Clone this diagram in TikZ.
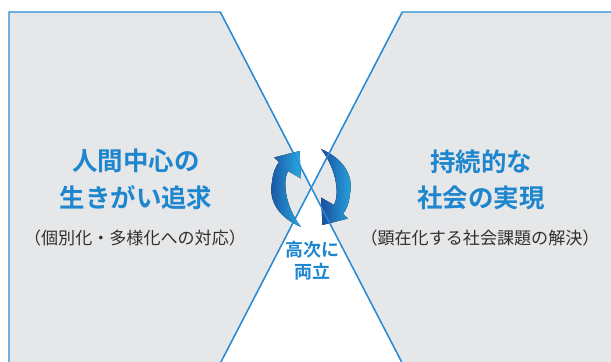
\documentclass[tikz,border=0pt]{standalone}
\usepackage{fontspec}
\newfontfamily\cjk{Noto Sans CJK JP}[BoldFont={Noto Sans CJK JP Bold}]
\definecolor{lineblue}{HTML}{2A8BD6}
\definecolor{panelgray}{HTML}{E6E7E9}
\definecolor{titleblue}{HTML}{1E86CE}
\definecolor{subgray}{HTML}{303030}
\definecolor{arrowdark}{HTML}{1B4F9F}
\definecolor{arrowlight}{HTML}{27A9E1}
\tikzset{
  title/.style={font=\cjk\bfseries\fontsize{19.1pt}{23pt}\selectfont, text=titleblue, inner sep=0pt, anchor=center},
  subtitle/.style={font=\cjk\fontsize{12.8pt}{15pt}\selectfont, text=subgray, inner sep=0pt, anchor=center},
  center/.style={font=\cjk\bfseries\fontsize{13.5pt}{16pt}\selectfont, text=titleblue, inner sep=0pt, anchor=center},
  border/.style={draw=lineblue, line width=0.95pt},
  cyclearrow/.style={left color=arrowdark, right color=arrowlight, draw=none}
}
\begin{document}
\begin{tikzpicture}[x=0.75pt, y=-0.75pt]
\useasboundingbox (0,0) rectangle (611,361);
\begin{scope}
\clip (0,0) rectangle (611,361);
% panels
\fill[panelgray] (9,12) -- (220.3,12) -- (311.5,188) -- (216.8,370) -- (9,370) -- cycle;
\fill[panelgray] (402.3,12) -- (620,12) -- (620,370) -- (405.8,370) -- (311.5,188) -- cycle;
% borders
\draw[border] (9,370) -- (9,12) -- (220.3,12) -- (405.8,370);
\draw[border] (620,12) -- (402.3,12) -- (216.8,370);
% cycle arrows
\fill[cyclearrow] (301,227) .. controls (280,218) and (268,202) .. (272,182)
  .. controls (273,172) and (276,166) .. (279,162) -- (274,157.5) -- (299.5,151)
  -- (301,178.5) -- (288,171) .. controls (283,180) and (284,205) .. (301,227) -- cycle;
\fill[cyclearrow] (321,149) .. controls (342,158) and (354,174) .. (350,194)
  .. controls (349,204) and (346,210) .. (343,214) -- (348,218.5) -- (322.5,225)
  -- (321,197.5) -- (334,205) .. controls (339,196) and (338,171) .. (321,149) -- cycle;
% crossing lines over arrows
\draw[lineblue, line width=0.95pt] (220.3,12) -- (405.8,370);
\draw[lineblue, line width=0.95pt] (402.3,12) -- (216.8,370);
\end{scope}
% texts
\node[title] (l1) at (136,161) {人間中心の};
\node[title] (l2) at (136,198) {生きがい追求};
\node[subtitle] (l3) at (135,238) {（個別化・多様化への対応）};
\node[title] (r1) at (481,162) {持続的な};
\node[title] (r2) at (481,198) {社会の実現};
\node[subtitle] (r3) at (480,238) {（顕在化する社会課題の解決）};
\node[center] (c1) at (312,250) {高次に};
\node[center] (c2) at (312,272) {両立};
\end{tikzpicture}
\end{document}
